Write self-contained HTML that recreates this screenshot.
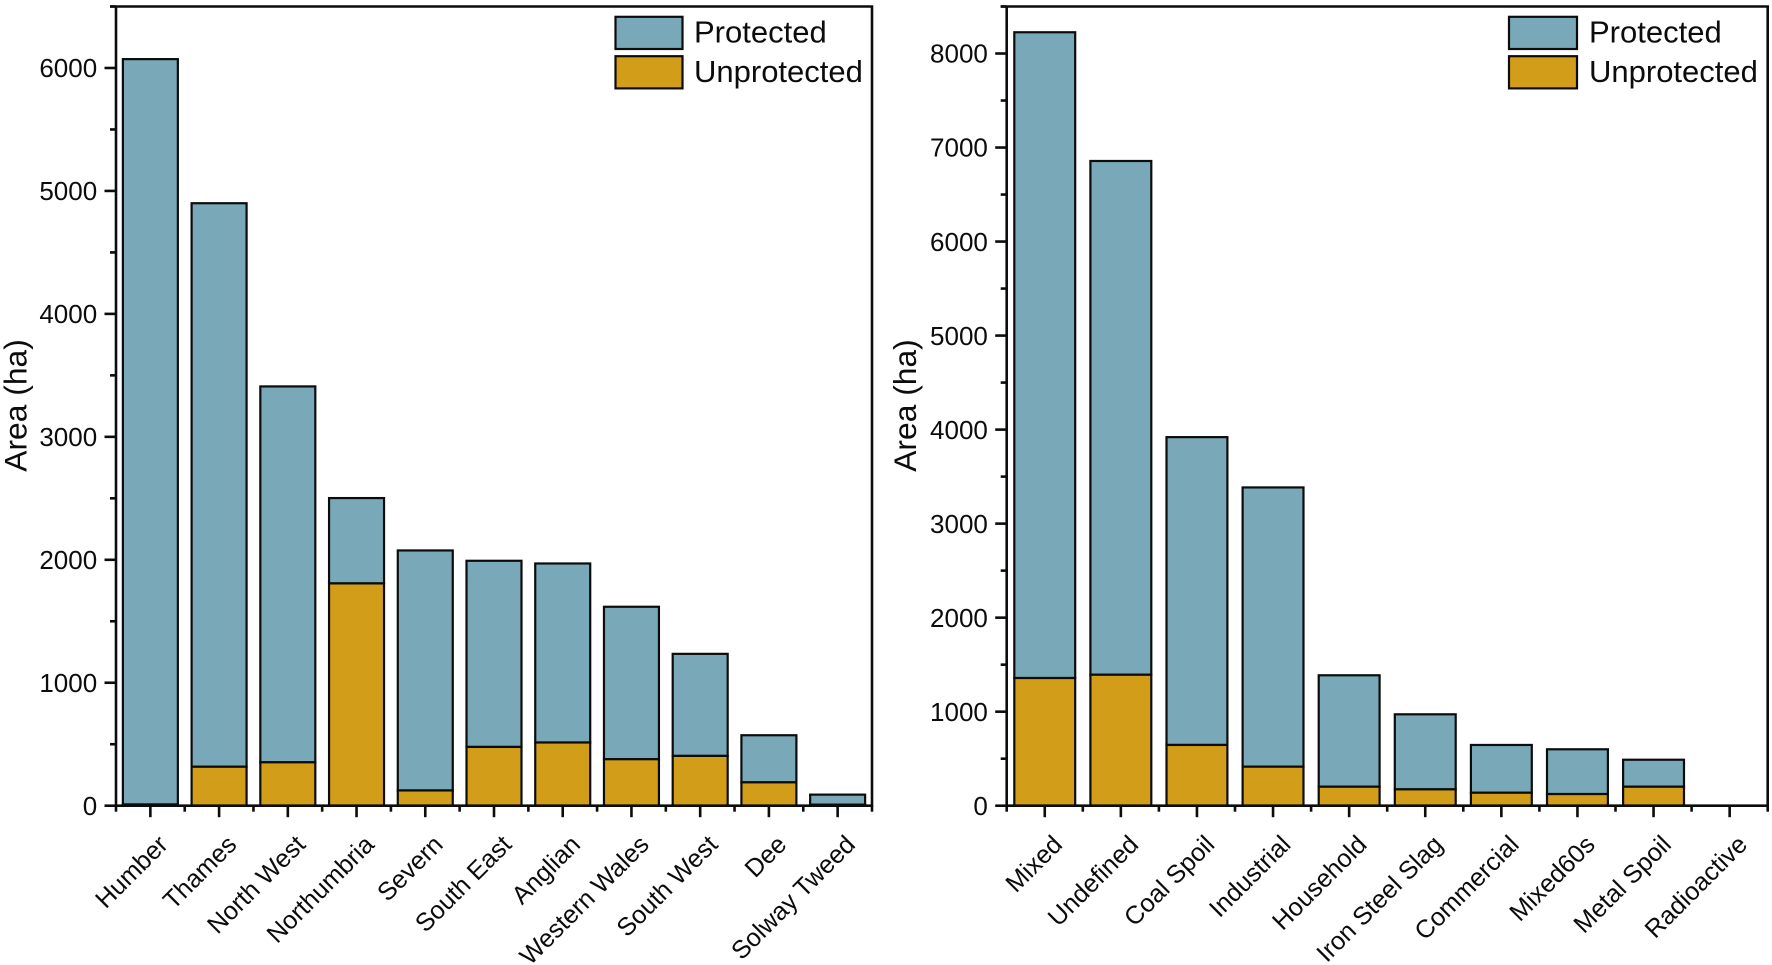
<!DOCTYPE html>
<html lang="en">
<head>
<meta charset="utf-8">
<title>Area by region and waste type</title>
<style>
html,body{margin:0;padding:0;background:#fff;}
svg{display:block;font-family:"Liberation Sans",Arial,sans-serif;}
</style>
</head>
<body>
<svg id="figure" xmlns="http://www.w3.org/2000/svg" width="1772" height="965" viewBox="0 0 1772 965">
<rect x="0" y="0" width="1772" height="965" fill="#ffffff"/>
<g id="region-chart"></g>
<g id="type-chart"></g>
</svg>
<script>
const regionCategories = ["Humber","Thames","North West","Northumbria","Severn","South East","Anglian","Western Wales","South West","Dee","Solway Tweed"];
const regionUnprotected = [10,317,353,1808,124,478,514,378,405,190,8];
const regionProtected = [6062,4583,3057,694,1952,1514,1456,1240,830,383,82];
const regionTicks = [0,1000,2000,3000,4000,5000,6000];
const regionMinorTicks = [500,1500,2500,3500,4500,5500,6500];

const typeCategories = ["Mixed","Undefined","Coal Spoil","Industrial","Household","Iron Steel Slag","Commercial","Mixed60s","Metal Spoil","Radioactive"];
const typeUnprotected = [1358,1393,646,415,202,174,138,124,202,0];
const typeProtected = [6868,5464,3274,2970,1185,798,508,476,287,0];
const typeTicks = [0,1000,2000,3000,4000,5000,6000,7000,8000];
const typeMinorTicks = [500,1500,2500,3500,4500,5500,6500,7500,8500];

const legendLabels = ["Protected","Unprotected"];
const yAxisTitle = "Area (ha)";

const NS = "http://www.w3.org/2000/svg";
const PROTECTED_COLOR = "#79a9b8";
const UNPROTECTED_COLOR = "#d29e19";
const INK = "#0c0c0c";

function mk(parent, tag, attrs, text) {
  const el = document.createElementNS(NS, tag);
  for (const k in attrs) el.setAttribute(k, attrs[k]);
  if (text !== undefined) el.textContent = text;
  parent.appendChild(el);
  return el;
}

function drawChart(cfg) {
  const root = document.getElementById(cfg.id);
  const top = 6.5, bottom = 805.7;
  const yScale = v => bottom - (v / cfg.yMax) * (bottom - top);
  const step = (cfg.right - cfg.left) / cfg.categories.length;
  const xCenter = i => cfg.left + step * (i + 0.5);
  const barW = step * 0.8;

  cfg.categories.forEach((name, i) => {
    const u = cfg.unprotected[i];
    const p = cfg.protectedVals[i];
    const x = xCenter(i) - barW / 2;

    const pBar = mk(root, "rect", {x: x, y: yScale(u + p), width: barW, height: yScale(u) - yScale(u + p), fill: PROTECTED_COLOR, stroke: INK, "stroke-width": 2.2});
    
    

    const uBar = mk(root, "rect", {x: x, y: yScale(u), width: barW, height: bottom - yScale(u), fill: UNPROTECTED_COLOR, stroke: INK, "stroke-width": 2.2});
    
    
  });

  const frame = mk(root, "path", {
    d: "M" + cfg.left + " " + bottom + "V" + top + "M" + (cfg.left - 6) + " " + top + "H" + cfg.right + "V" + bottom + "H" + cfg.left,
    fill: "none", stroke: INK, "stroke-width": 2.6
  });
  
  

  cfg.ticks.forEach(v => {
    const t = mk(root, "line", {x1: cfg.left - 11.5, x2: cfg.left, y1: yScale(v), y2: yScale(v), stroke: INK, "stroke-width": 2.6});
    
    

    const l = mk(root, "text", {x: cfg.left - 18.8, y: yScale(v) + 9.2, "text-anchor": "end", "font-size": 26, fill: INK}, String(v));
    
    
  });

  cfg.minorTicks.forEach(v => {
    const t = mk(root, "line", {x1: cfg.left - 6, x2: cfg.left, y1: yScale(v), y2: yScale(v), stroke: INK, "stroke-width": 2.6});
    
    
  });

  cfg.categories.forEach((name, i) => {
    const cx = xCenter(i);
    const t = mk(root, "line", {x1: cx, x2: cx, y1: bottom, y2: bottom + 11.5, stroke: INK, "stroke-width": 2.6});
    
    

    const l = mk(root, "text", {
      x: cx + 19, y: 846, "text-anchor": "end", "font-size": 25.3, fill: INK,
      transform: "rotate(-45 " + (cx + 19) + " 846)"
    }, name);
    
    
  });

  for (let i = 0; i <= cfg.categories.length; i++) {
    const x = cfg.left + step * i;
    const t = mk(root, "line", {x1: x, x2: x, y1: bottom, y2: bottom + 6, stroke: INK, "stroke-width": 2.6});
    
    
  }

  const title = mk(root, "text", {
    x: cfg.titleX, y: 405.5, "text-anchor": "middle", "font-size": 31.8, fill: INK,
    transform: "rotate(-90 " + cfg.titleX + " 405.5)"
  }, yAxisTitle);
  
  

  const legendColors = [PROTECTED_COLOR, UNPROTECTED_COLOR];
  const legendTops = [16.8, 56.2];
  legendLabels.forEach((label, i) => {
    const s = mk(root, "rect", {x: cfg.legendX, y: legendTops[i], width: cfg.legendW, height: 32.2, fill: legendColors[i], stroke: INK, "stroke-width": 2.2});
    
    

    const txt = mk(root, "text", {x: cfg.legendTextX, y: legendTops[i] + 25.8, "font-size": 31, fill: INK}, label);
    
    
  });
}

drawChart({
  id: "region-chart", left: 116, right: 872, yMax: 6500, titleX: 26.5,
  categories: regionCategories, unprotected: regionUnprotected, protectedVals: regionProtected,
  ticks: regionTicks, minorTicks: regionMinorTicks,
  legendX: 615.5, legendW: 67, legendTextX: 694
});
drawChart({
  id: "type-chart", left: 1006.7, right: 1767.7, yMax: 8500, titleX: 916,
  categories: typeCategories, unprotected: typeUnprotected, protectedVals: typeProtected,
  ticks: typeTicks, minorTicks: typeMinorTicks,
  legendX: 1509, legendW: 68, legendTextX: 1589
});
</script>
</body>
</html>
